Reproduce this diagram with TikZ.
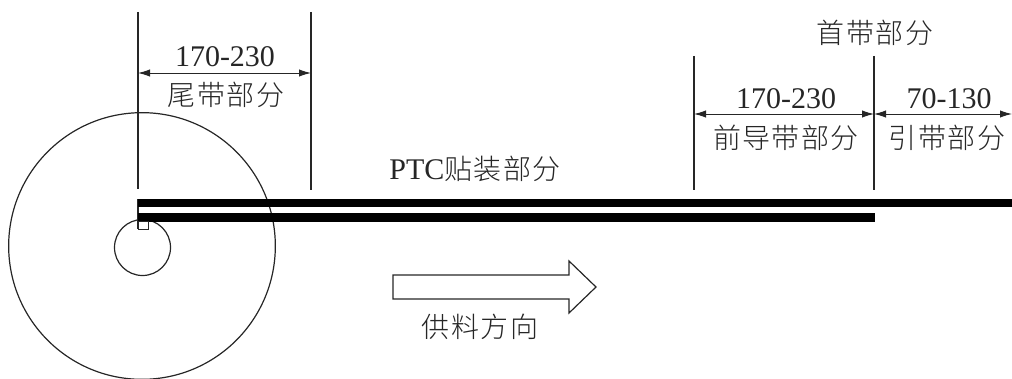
\documentclass[tikz,border=0pt]{standalone}
\usepackage{fontspec}
\setmainfont{Liberation Serif}
\newfontfamily\cjk[LetterSpace=5]{Noto Sans CJK SC Light}
\usetikzlibrary{arrows.meta}
\definecolor{ink}{gray}{0.15}
\tikzset{
 thin line/.style={draw=ink,line width=0.9pt},
 band/.style={draw=black,line width=6.4pt},
 dim/.style={draw=ink,line width=0.7pt,{Latex[length=9pt,width=5.5pt]}-{Latex[length=9pt,width=5.5pt]}},
 lbl/.style={inner sep=0pt,text=ink,font=\fontsize{22.5pt}{24pt}\selectfont},
 clbl/.style={inner sep=0pt,text=ink,font=\fontsize{21pt}{24pt}\selectfont\cjk}
}
\begin{document}
\begin{tikzpicture}[x=0.75pt,y=-0.75pt]
\useasboundingbox (0,0) rectangle (1012,378);
\coordinate (t1) at (138,12); \coordinate (b1) at (138,189);
\coordinate (t1b) at (138,199); \coordinate (b1b) at (138,229);
\coordinate (t2) at (311,12); \coordinate (b2) at (311,190);
\coordinate (t3) at (694,56); \coordinate (b3) at (694,190);
\coordinate (t4) at (874,56); \coordinate (b4) at (874,190);
\node[circle,thin line,minimum size=200pt,inner sep=0pt] (big) at (142,246) {};
\node[circle,thin line,minimum size=42pt,inner sep=0pt] (small) at (142.5,247.5) {};
\draw[thin line] (t1)--(b1); \draw[thin line] (t2)--(b2);
\draw[thin line] (t1b)--(b1b);
\draw[thin line] (t3)--(b3); \draw[thin line] (t4)--(b4);
\coordinate (ua) at (138,203); \coordinate (ub) at (1012,203);
\coordinate (la) at (138,217.5); \coordinate (lb) at (875,217.5);
\draw[band] (ua)--(ub);
\draw[band] (la)--(lb);
\node[draw=ink,line width=0.7pt,fill=white,minimum width=8pt,minimum height=6pt,inner sep=0pt] (sq) at (143.5,225.5) {};
\coordinate (d1a) at (138,73); \coordinate (d1b) at (311,73);
\coordinate (d2a) at (694,114); \coordinate (d2b) at (874,114); \coordinate (d3b) at (1012,114);
\draw[dim] (d1a)--(d1b);
\draw[dim] (d2a)--(d2b);
\draw[dim] (d2b)--(d3b);
\node[lbl] (n1) at (225,57) {170-230};
\node[clbl] (n2) at (226,95) {尾带部分};
\node[clbl] (n3) at (875,33) {首带部分};
\node[lbl] (n4) at (786,99) {170-230};
\node[clbl] (n5) at (786,138) {前导带部分};
\node[lbl] (n6) at (949,99) {70-130};
\node[clbl] (n7) at (947,138) {引带部分};
\node[lbl] (n8) at (475,169) {PTC{\cjk\fontsize{21pt}{24pt}\selectfont 贴装部分}};
\node[clbl] (n9) at (480,327) {供料方向};
\draw[thin line] (393,275)--(569,275)--(569,261)--(596,287)--(569,313)--(569,299)--(393,299)--cycle;
\end{tikzpicture}
\end{document}
